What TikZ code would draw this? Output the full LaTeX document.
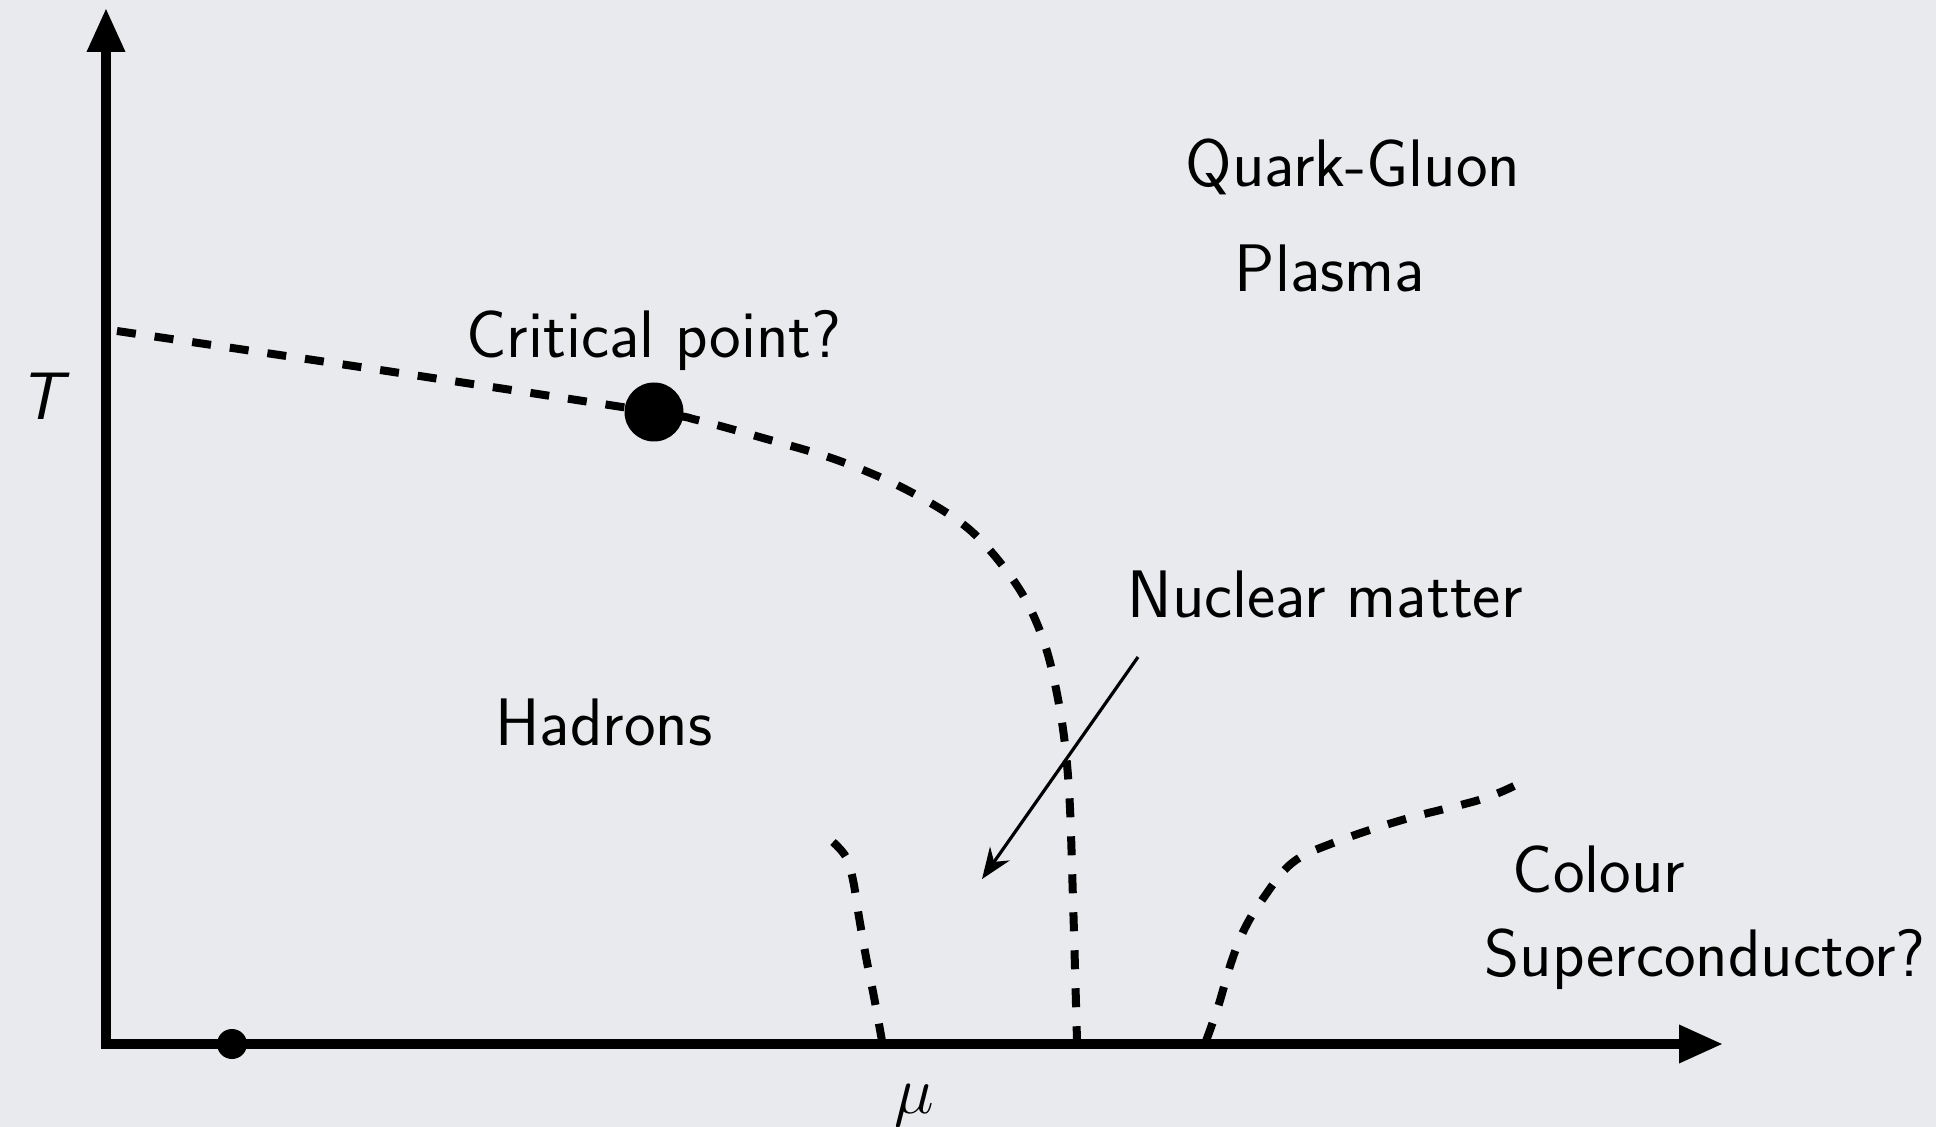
\RequirePackage{fix-cm}
\documentclass[tikz,border=0pt]{standalone}
\usetikzlibrary{arrows.meta}
\definecolor{bgc}{RGB}{233,234,237}
\begin{document}
\begin{tikzpicture}[x=0.5pt,y=-0.5pt,
  lab/.style={font=\fontsize{33.6}{40}\selectfont\sffamily, inner sep=0pt},
  axis/.style={line width=4.8pt, line join=miter,
    {Triangle[length=22pt,width=18pt]}-{Triangle[length=22pt,width=18pt]}},
  phase/.style={line width=4pt, dash pattern=on 9.5pt off 9.5pt},
  pointer/.style={line width=1.6pt, -{Stealth[length=15.5pt,width=12pt,inset=5pt]}},
  dot/.style={circle, fill=black, inner sep=0pt}]
\fill[bgc] (0,0) rectangle (1936,1127);
\useasboundingbox (0,0) rectangle (1936,1127);
% axes
\coordinate (O) at (106,1044);
\coordinate (Ttop) at (106,8);
\coordinate (Mur) at (1723,1044);
\draw[axis] (Ttop) -- (O) -- (Mur);
\node[lab, font=\fontsize{33.6}{40}\selectfont\sffamily\itshape] (T) at (41,396) {T};
\node[lab] (mu) at (914,1106) {$\mu$};
% phase boundaries
\draw[phase] plot[smooth, tension=0.55] coordinates {(117,331) (380,370) (654,412) (697,420) (763,438) (837,460) (907,490) (970,530) (1018,587) (1045,645) (1061,716) (1069,790) (1073,900) (1077,1041)};
\draw[phase] plot[smooth, tension=0.6] coordinates {(833,842) (846,857) (853,880) (859,917) (866,957) (874,997) (882,1041)};
\draw[phase] plot[smooth, tension=0.6] coordinates {(1206,1041) (1218,1007) (1231,963) (1244,930) (1262,900) (1292,863) (1333,843) (1402,820) (1479,800) (1514,786)};
% points
\node[dot, minimum size=29.5pt] (cp) at (654,412) {};
\node[dot, minimum size=15pt] (mu0) at (232,1044) {};
% labels
\node[lab] (cpl) at (654,340) {Critical point?};
\node[lab] (qgp1) at (1353,167) {Quark-Gluon};
\node[lab] (qgp2) at (1330,268) {Plasma};
\node[lab] (nm) at (1325,594) {Nuclear matter};
\node[lab] (had) at (604,722) {Hadrons};
\node[lab] (cs1) at (1599,869) {Colour};
\node[lab] (cs2) at (1705,959) {Superconductor?};
% pointer
\coordinate (ps) at (1138,657);
\coordinate (pe) at (982,879);
\draw[pointer] (ps) -- (pe);
\end{tikzpicture}
\end{document}
